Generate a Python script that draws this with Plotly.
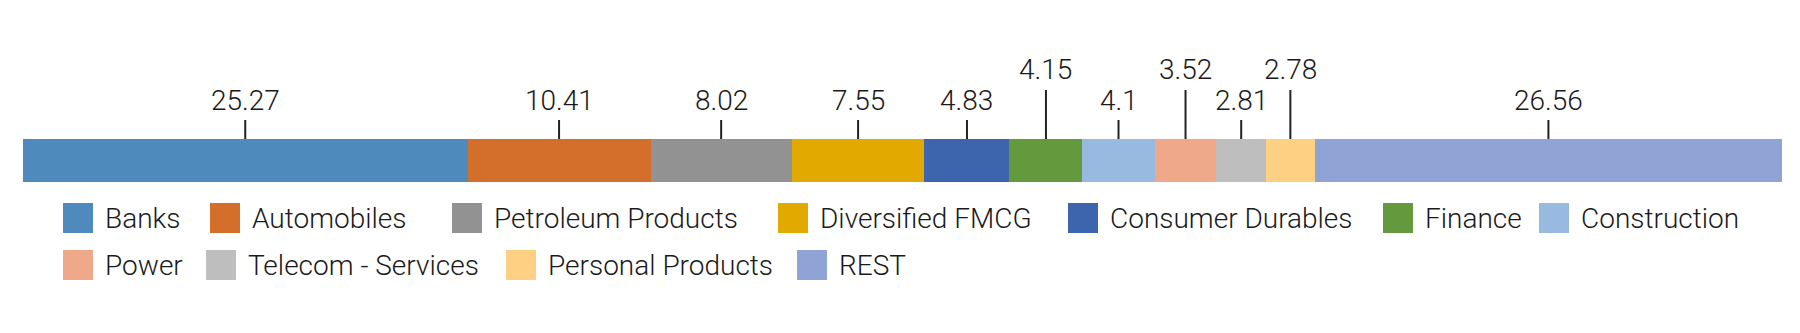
import plotly.graph_objects as go

# ---- data ----
sectors = ["Banks", "Automobiles", "Petroleum Products", "Diversified FMCG",
           "Consumer Durables", "Finance", "Construction", "Power",
           "Telecom - Services", "Personal Products", "REST"]
weights = [25.27, 10.41, 8.02, 7.55, 4.83, 4.15, 4.1, 3.52, 2.81, 2.78, 26.56]
value_labels = ["25.27", "10.41", "8.02", "7.55", "4.83", "4.15", "4.1", "3.52", "2.81", "2.78", "26.56"]

# ---- style ----
colors = ["#4f8abd", "#d46e2b", "#929292", "#e2aa00", "#3d65ae", "#64993e",
          "#98b9e0", "#f0a88b", "#bebebe", "#fdd083", "#8fa4d4"]
raised = {"Finance", "Power", "Personal Products"}
FONT = "Roboto"
FW = 300
FS = 28
W, H = 1800, 333
TXT = "#1a1a1a"

def py(pix):  # pixel row -> paper y
    return 1 - pix / H

def px(pix):  # pixel col -> paper x
    return pix / W

bar_top, bar_bot = 139, 182

fig = go.Figure()
for name, val, col in zip(sectors, weights, colors):
    fig.add_trace(go.Bar(
        x=[val], y=["mix"], orientation="h", name=name,
        marker=dict(color=col, line=dict(width=0)),
        width=1, showlegend=False, hoverinfo="name+x",
    ))

annotations = []
shapes = []
cum = 0.0
for name, val, lab in zip(sectors, weights, value_labels):
    mid = cum + val / 2
    cum += val
    if name in raised:
        ty, tick_top = 69, 90
    else:
        ty, tick_top = 101, 120
    annotations.append(dict(
        x=mid, xref="x", y=py(ty), yref="paper", text=lab, showarrow=False,
        xanchor="center", yanchor="middle",
        font=dict(family=FONT, size=FS, color=TXT, weight=FW)))
    shapes.append(dict(
        type="line", xref="x", yref="paper", x0=mid, x1=mid,
        y0=py(bar_top), y1=py(tick_top),
        line=dict(color="#222222", width=2)))

# manual legend (positions in pixels)
legend_pos = {
    "Banks": (0, 63), "Automobiles": (0, 210), "Petroleum Products": (0, 452),
    "Diversified FMCG": (0, 778), "Consumer Durables": (0, 1068),
    "Finance": (0, 1383), "Construction": (0, 1539),
    "Power": (1, 63), "Telecom - Services": (1, 206),
    "Personal Products": (1, 506), "REST": (1, 797),
}
row_top = [203, 250]
for name, col in zip(sectors, colors):
    row, x0 = legend_pos[name]
    t = row_top[row]
    shapes.append(dict(
        type="rect", xref="paper", yref="paper",
        x0=px(x0), x1=px(x0 + 30), y0=py(t + 30), y1=py(t),
        fillcolor=col, line=dict(width=0)))
    annotations.append(dict(
        x=px(x0 + 40), xref="paper", y=py(t + 15), yref="paper", text=name,
        showarrow=False, xanchor="left", yanchor="middle",
        font=dict(family=FONT, size=FS, color=TXT, weight=FW)))

fig.update_layout(
    barmode="stack",
    width=W, height=H,
    margin=dict(l=0, r=0, t=0, b=0),
    paper_bgcolor="white", plot_bgcolor="white",
    xaxis=dict(domain=[px(23), px(1782)], range=[0, 100], visible=False, fixedrange=True),
    yaxis=dict(domain=[py(bar_bot), py(bar_top)], range=[-0.5, 0.5], visible=False, fixedrange=True),
    annotations=annotations,
    shapes=shapes,
    showlegend=False,
)

fig.write_html("out.html")
